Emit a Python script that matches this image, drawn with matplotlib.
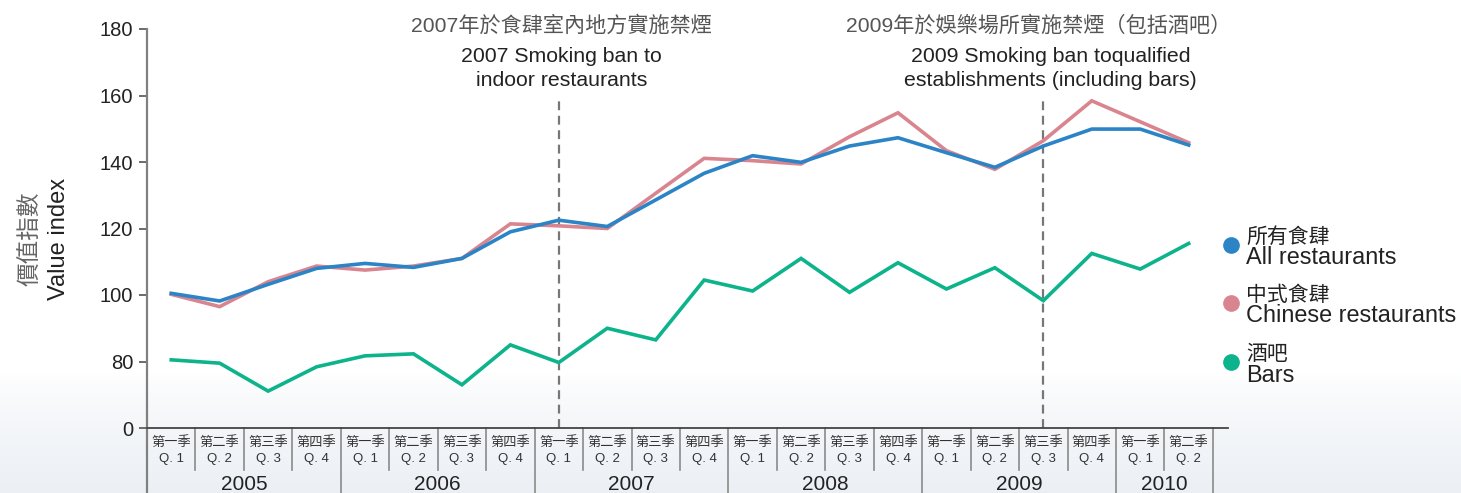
import matplotlib
matplotlib.use("Agg")
import matplotlib.pyplot as plt
import numpy as np
from matplotlib import transforms
from matplotlib.lines import Line2D

plt.rcParams['font.family'] = ['Liberation Sans', 'Noto Sans CJK TC']

# ---- data -------------------------------------------------------------
years = ["2005", "2006", "2007", "2008", "2009", "2010"]
quarters_zh = ["第一季", "第二季", "第三季", "第四季"]
quarters_en = ["Q. 1", "Q. 2", "Q. 3", "Q. 4"]
n_quarters = 22

all_restaurants = [100.5, 98.2, 103.2, 108.0, 109.5, 108.3, 111.0, 119.0,
                   122.5, 120.6, 128.6, 136.6, 141.9, 139.9, 144.8, 147.3,
                   142.8, 138.4, 144.8, 149.9, 149.9, 145.1]
chinese_restaurants = [100.2, 96.5, 104.0, 108.7, 107.5, 108.7, 111.0, 121.4,
                       120.8, 120.0, 130.6, 141.1, 140.4, 139.4, 147.6, 154.8,
                       143.4, 137.8, 146.4, 158.4, 152.1, 145.8]
bars = [80.5, 79.5, 71.1, 78.4, 81.7, 82.3, 73.0, 85.0,
        79.7, 90.0, 86.5, 104.5, 101.2, 111.0, 100.8, 109.7,
        101.8, 108.2, 98.3, 112.5, 107.8, 115.5]

# y axis is broken: the lowest tick (drawn at 60) stands for 0
y_ticks = [60, 80, 100, 120, 140, 160, 180]
y_ticklabels = ["0", "80", "100", "120", "140", "160", "180"]

ban_x = [8, 18]   # 2007 Q1, 2009 Q3
ban_zh = ["2007年於食肆室內地方實施禁煙", "2009年於娛樂場所實施禁煙（包括酒吧）"]
ban_en = [["2007 Smoking ban to", "indoor restaurants"],
          ["2009 Smoking ban toqualified", "establishments (including bars)"]]

series = [
    ("所有食肆", "All restaurants", all_restaurants, "#2a84c6"),
    ("中式食肆", "Chinese restaurants", chinese_restaurants, "#d9858f"),
    ("酒吧", "Bars", bars, "#0cb38b"),
]

W, H = 1461, 493
fig = plt.figure(figsize=(W / 100, H / 100), dpi=100)

# faint background wash at the bottom
bg = fig.add_axes([0, 0, 1, 1], zorder=-5)
grad = np.linspace(0, 1, 200)
grad = np.clip((grad - 0.76) / 0.24, 0, 1) ** 0.7
top = np.array([1.0, 1.0, 1.0])
bot = np.array([0.925, 0.94, 0.96])
img = top[None, None, :] * (1 - grad[:, None, None]) + bot[None, None, :] * grad[:, None, None]
img = np.repeat(img, 2, axis=1)
bg.imshow(img, aspect="auto", extent=[0, 1, 0, 1], origin="upper")
bg.axis("off")

ax_left, ax_right, ax_top, ax_bot = 147, 1228, 29, 428
ax = fig.add_axes([ax_left / W, 1 - ax_bot / H, (ax_right - ax_left) / W, (ax_bot - ax_top) / H])
ax.patch.set_alpha(0)

cell = 48.45
x = np.arange(n_quarters)
ax.set_xlim(-0.5, (ax_right - ax_left) / cell - 0.5)
ax.set_ylim(60, 180)

# draw order: pink under blue
for zh, en, vals, col in [series[2], series[1], series[0]]:
    ax.plot(x, vals, color=col, lw=2.6, solid_joinstyle="miter", zorder=3)

for bx in ban_x:
    ax.plot([bx, bx], [60, 160], color="#777777", lw=1.6, ls=(0, (4, 2.5)), zorder=2)

# spines and ticks
for s in ["top", "right", "left"]:
    ax.spines[s].set_visible(False)
ax.spines["bottom"].set_color("#444444")
ax.spines["bottom"].set_linewidth(1.3)
ax.add_line(Line2D([0, 0], [1, -65 / 399], transform=ax.transAxes, color="#808080",
                   lw=1.6, clip_on=False))
ax.set_yticks(y_ticks)
ax.set_yticklabels(y_ticklabels, fontsize=14.5, color="#222222")
ax.tick_params(axis="y", length=6, width=1.1, color="#444444", pad=4)
ax.set_xticks([])

# quarter / year table under the axis
tr = transforms.blended_transform_factory(ax.transData, ax.transAxes)
for i in range(n_quarters):
    q = i % 4
    ax.text(i, -15 / 399, quarters_zh[q], transform=tr, ha="center", va="center",
            fontsize=9.5, color="#333333")
    ax.text(i, -31 / 399, quarters_en[q], transform=tr, ha="center", va="center",
            fontsize=9.5, color="#333333")
    xb = i + 0.5
    if (i + 1) % 4 == 0 or i == n_quarters - 1:
        ax.add_line(Line2D([xb, xb], [0, -65 / 399], transform=tr, color="#8a8a8a",
                           lw=1.2, clip_on=False))
    else:
        ax.add_line(Line2D([xb, xb], [0, -42 / 399], transform=tr, color="#8a8a8a",
                           lw=1.2, clip_on=False))
for k, yr in enumerate(years):
    first = k * 4
    last = min(first + 3, n_quarters - 1)
    ax.text((first + last) / 2, -56 / 399, yr, transform=tr, ha="center", va="center",
            fontsize=15, color="#222222")

# ban annotations
ann_x = [(8.06, 8.06), (17.9, 18.15)]
for (xz, xe), zh, en in zip(ann_x, ban_zh, ban_en):
    ax.text(xz, (428 - 25) / 399, zh, transform=tr, ha="center", va="center",
            fontsize=15.2, color="#555555")
    ax.text(xe, (428 - 57) / 399, en[0], transform=tr, ha="center", va="center",
            fontsize=15.3, color="#222222")
    ax.text(xe, (428 - 80) / 399, en[1], transform=tr, ha="center", va="center",
            fontsize=15.3, color="#222222")

# y label
fig.text(31 / W, 1 - 239 / H, "價值指數", rotation=90, ha="center", va="center",
         fontsize=17, color="#666666")
fig.text(59 / W, 1 - 239 / H, "Value index", rotation=90, ha="center", va="center",
         fontsize=17, color="#222222")

# legend
leg_y = [245, 303, 362]
for (zh, en, vals, col), ly in zip(series, leg_y):
    fig.add_artist(Line2D([1231 / W], [1 - ly / H], marker="o", ms=11, color=col,
                          mec=col, ls="none"))
    fig.text(1246 / W, 1 - (ly - 8) / H, zh, ha="left", va="center",
             fontsize=15, color="#222222")
    fig.text(1246 / W, 1 - (ly + 13) / H, en, ha="left", va="center",
             fontsize=16.9, color="#222222")

fig.savefig("out.png", dpi=100)
